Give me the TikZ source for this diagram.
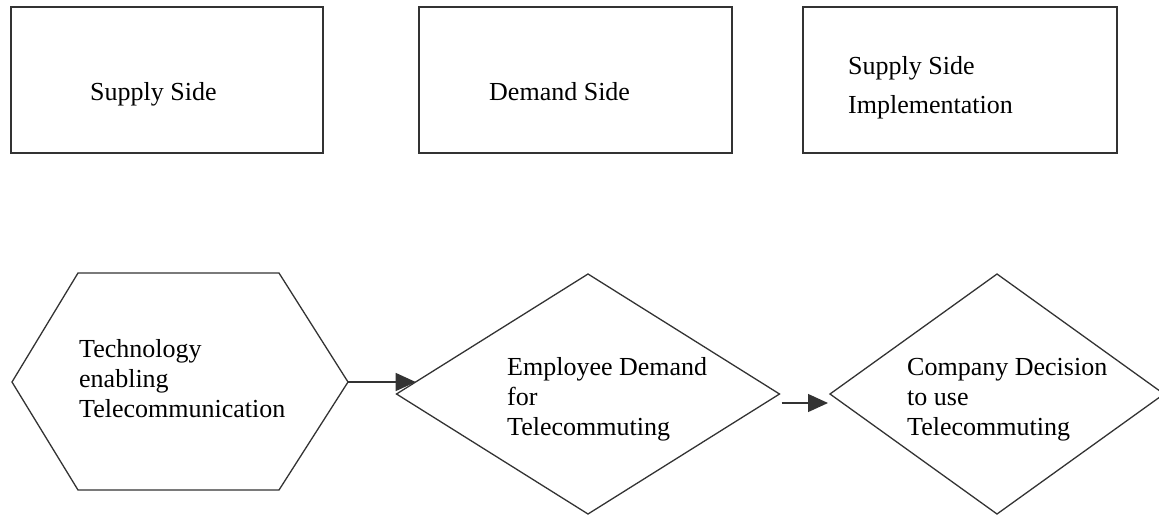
\documentclass[tikz,border=0pt]{standalone}
\usepackage{fontspec}
\setmainfont{Liberation Serif}
\usetikzlibrary{shapes.geometric,arrows.meta}
\begin{document}
\begin{tikzpicture}[x=1pt,y=-1pt,
 line/.style={draw=black!80,line width=1.3pt},
 box/.style={line, rectangle, inner sep=0pt, outer sep=0pt},
 dia/.style={line, diamond, inner sep=0pt, outer sep=0pt, minimum height=240pt},
 lbl/.style={anchor=base west, inner sep=0pt, align=left, font=\fontsize{26}{30}\selectfont},
 conn/.style={draw=black!80, line width=1.3pt, -{Triangle[length=20pt,width=18pt]}}]
\useasboundingbox (0,0) rectangle (1159,515);
% top boxes
\node[box, minimum width=312pt, minimum height=146pt] (b1) at (167,80) {};
\node[box, minimum width=313pt, minimum height=146pt] (b2) at (575.5,80) {};
\node[box, minimum width=314pt, minimum height=146pt] (b3) at (960,80) {};
\node[lbl] (t1) at (90,100) {Supply Side};
\node[lbl] (t2) at (489,100) {Demand Side};
\node[lbl, font=\fontsize{26}{39}\selectfont] (t3) at (848,113) {Supply Side\\Implementation};
% hexagon
\coordinate (hexW) at (12,382);
\coordinate (hexE) at (348,382);
\draw[line, line join=miter] (hexW) -- (78,273) -- (279,273) -- (hexE) -- (279,490) -- (78,490) -- cycle;
\node[lbl] (t4) at (79,417) {Technology\\enabling\\Telecommunication};
% diamonds
\node[dia, minimum width=383pt] (d1) at (588,394) {};
\node[dia, minimum width=334pt] (d2) at (997,394) {};
\node[lbl] (t5) at (507,435) {Employee Demand\\for\\Telecommuting};
\node[lbl] (t6) at (907,435) {Company Decision\\to use\\Telecommuting};
% connectors
\draw[conn] (hexE) -- (hexE -| d1.176);
\draw[conn] ([xshift=2pt,yshift=-9pt]d1.east) -- ([xshift=-2pt,yshift=-9pt]d2.west);
\end{tikzpicture}
\end{document}
